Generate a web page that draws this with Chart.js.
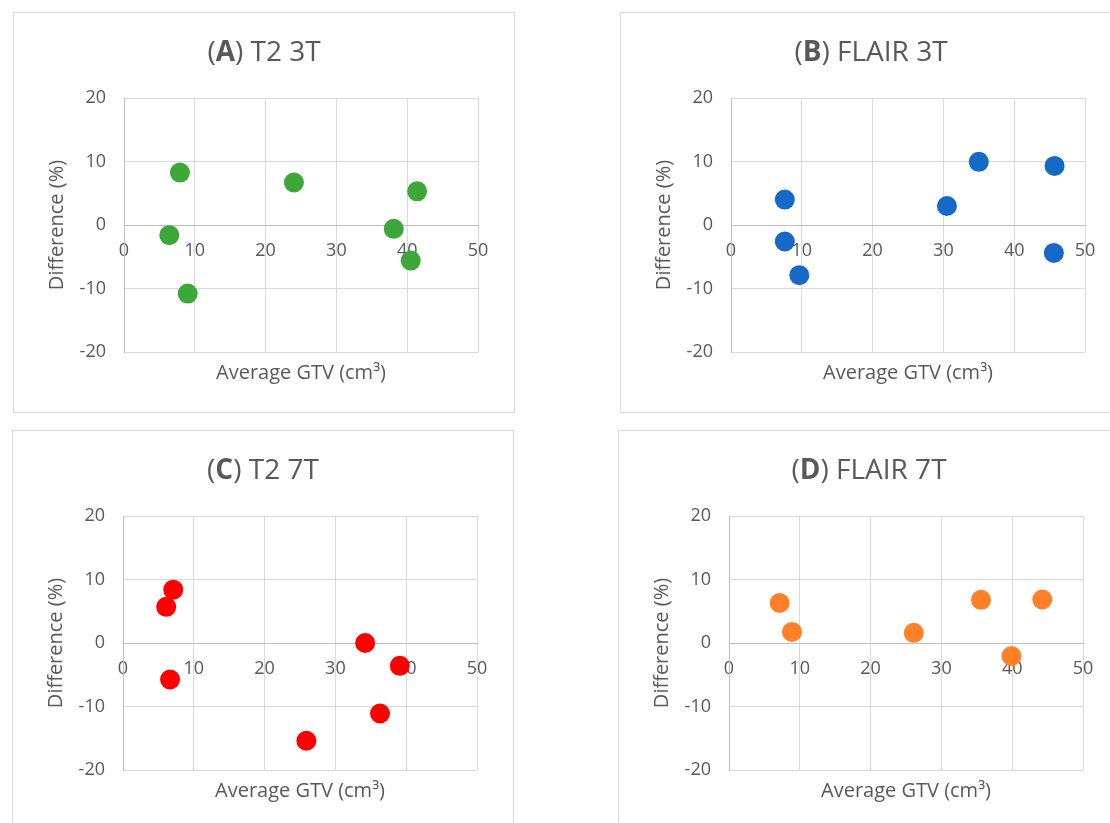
<!DOCTYPE html>
<html><head><meta charset="utf-8">
<script src="https://cdn.jsdelivr.net/npm/chart.js@4.4.1/dist/chart.umd.min.js"></script>
<style>
html,body{margin:0;padding:0;background:#fff;overflow:hidden;width:1110px;height:823px;}
.panel{position:absolute;border:1px solid #d9d9d9;box-sizing:border-box;width:502px;height:401px;background:#fff}
.panel canvas{position:absolute;left:0;top:0}
</style></head><body>
<div class="panel" style="left:13px;top:12px"><canvas id="cA" width="500" height="399"></canvas></div>
<div class="panel" style="left:620px;top:12px"><canvas id="cB" width="500" height="399"></canvas></div>
<div class="panel" style="left:12px;top:430px"><canvas id="cC" width="500" height="399"></canvas></div>
<div class="panel" style="left:618px;top:430px"><canvas id="cD" width="500" height="399"></canvas></div>
<script>
// ---- data ----
const xTickValues = [0, 10, 20, 30, 40, 50];
const yTickValues = [-20, -10, 0, 10, 20];
const xAxisTitle = 'Average GTV (cm\u00B3)';
const yAxisTitle = 'Difference (%)';

const letters = ['A', 'B', 'C', 'D'];
const panelNames = ['T2 3T', 'FLAIR 3T', 'T2 7T', 'FLAIR 7T'];
const pointColors = ['#3DA83A', '#1569C7', '#FF0000', '#FF8027'];

const t2_3T_gtv   = [7.9, 6.4, 9.0, 24.0, 38.1, 41.4, 40.5];
const t2_3T_diff  = [8.25, -1.6, -10.8, 6.7, -0.6, 5.3, -5.6];

const flair_3T_gtv  = [7.6, 7.6, 9.65, 30.5, 35.0, 45.7, 45.6];
const flair_3T_diff = [4.0, -2.6, -7.9, 3.0, 9.95, 9.3, -4.4];

const t2_7T_gtv   = [7.1, 6.1, 6.65, 25.9, 34.2, 36.3, 39.1];
const t2_7T_diff  = [8.4, 5.7, -5.75, -15.4, 0.0, -11.1, -3.6];

const flair_7T_gtv  = [7.15, 8.9, 26.1, 35.6, 44.25, 39.9];
const flair_7T_diff = [6.3, 1.75, 1.6, 6.8, 6.85, -2.05];

const panelX = [t2_3T_gtv, flair_3T_gtv, t2_7T_gtv, flair_7T_gtv];
const panelY = [t2_3T_diff, flair_3T_diff, t2_7T_diff, flair_7T_diff];

// ---- drawing ----
const FONT = '"Open Sans", "Noto Sans", sans-serif';
const TEXT = '#595959';
const GRID = '#d9d9d9';
const AXIS = '#bfbfbf';

const panelText = {
  id: 'panelText',
  afterDraw(chart, args, opts) {
    const ctx = chart.ctx, ca = chart.chartArea;
    ctx.save();
    ctx.fillStyle = TEXT;
    const size = 28;
    const parts = [{t: '(', b: false}, {t: opts.letter, b: true}, {t: ') ' + opts.name, b: false}];
    let total = 0;
    parts.forEach(p => { ctx.font = (p.b ? 'bold ' : '') + size + 'px ' + FONT; p.w = ctx.measureText(p.t).width; total += p.w; });
    let x = chart.width / 2 - total / 2;
    ctx.textAlign = 'left';
    ctx.textBaseline = 'alphabetic';
    parts.forEach(p => { ctx.font = (p.b ? 'bold ' : '') + size + 'px ' + FONT; ctx.fillText(p.t, x, 48); x += p.w; });
    ctx.font = '20px ' + FONT;
    ctx.textAlign = 'center';
    ctx.textBaseline = 'middle';
    ctx.fillText(xAxisTitle, (ca.left + ca.right) / 2, ca.bottom + 21);
    ctx.restore();
  }
};

['cA', 'cB', 'cC', 'cD'].forEach((id, i) => {
  const data = panelX[i].map((x, k) => ({x: x, y: panelY[i][k]}));
  new Chart(document.getElementById(id), {
    type: 'scatter',
    data: {datasets: [{
      data: data,
      backgroundColor: pointColors[i],
      borderWidth: 0,
      pointRadius: 10,
      pointHoverRadius: 10
    }]},
    plugins: [panelText],
    options: {
      responsive: false,
      animation: false,
      events: [],
      layout: {padding: {left: 0, top: 85, right: 36, bottom: 60}},
      plugins: {
        legend: {display: false},
        tooltip: {enabled: false},
        panelText: {letter: letters[i], name: panelNames[i]}
      },
      scales: {
        x: {
          type: 'linear',
          min: 0, max: 50,
          position: {y: 0},
          afterBuildTicks: s => { s.ticks = xTickValues.map(v => ({value: v})); },
          afterFit: s => { s.height = 0; },
          ticks: {color: TEXT, font: {family: FONT, size: 18}, padding: 15, maxRotation: 0},
          grid: {drawTicks: false, lineWidth: 1, color: c => (c.tick && c.tick.value === 0) ? AXIS : GRID},
          border: {display: true, color: AXIS, width: 1}
        },
        y: {
          type: 'linear',
          min: -20, max: 20,
          position: 'left',
          afterBuildTicks: s => { s.ticks = yTickValues.map(v => ({value: v})); },
          afterFit: s => { s.width = 110; },
          ticks: {color: TEXT, font: {family: FONT, size: 18}, padding: 18},
          grid: {drawTicks: false, lineWidth: 1, color: c => (c.tick && c.tick.value === 0) ? AXIS : GRID},
          border: {display: true, color: AXIS, width: 1},
          title: {display: true, text: yAxisTitle, color: TEXT, font: {family: FONT, size: 20}, padding: {top: 31, bottom: 0}}
        }
      }
    }
  });
});
</script>
</body></html>
